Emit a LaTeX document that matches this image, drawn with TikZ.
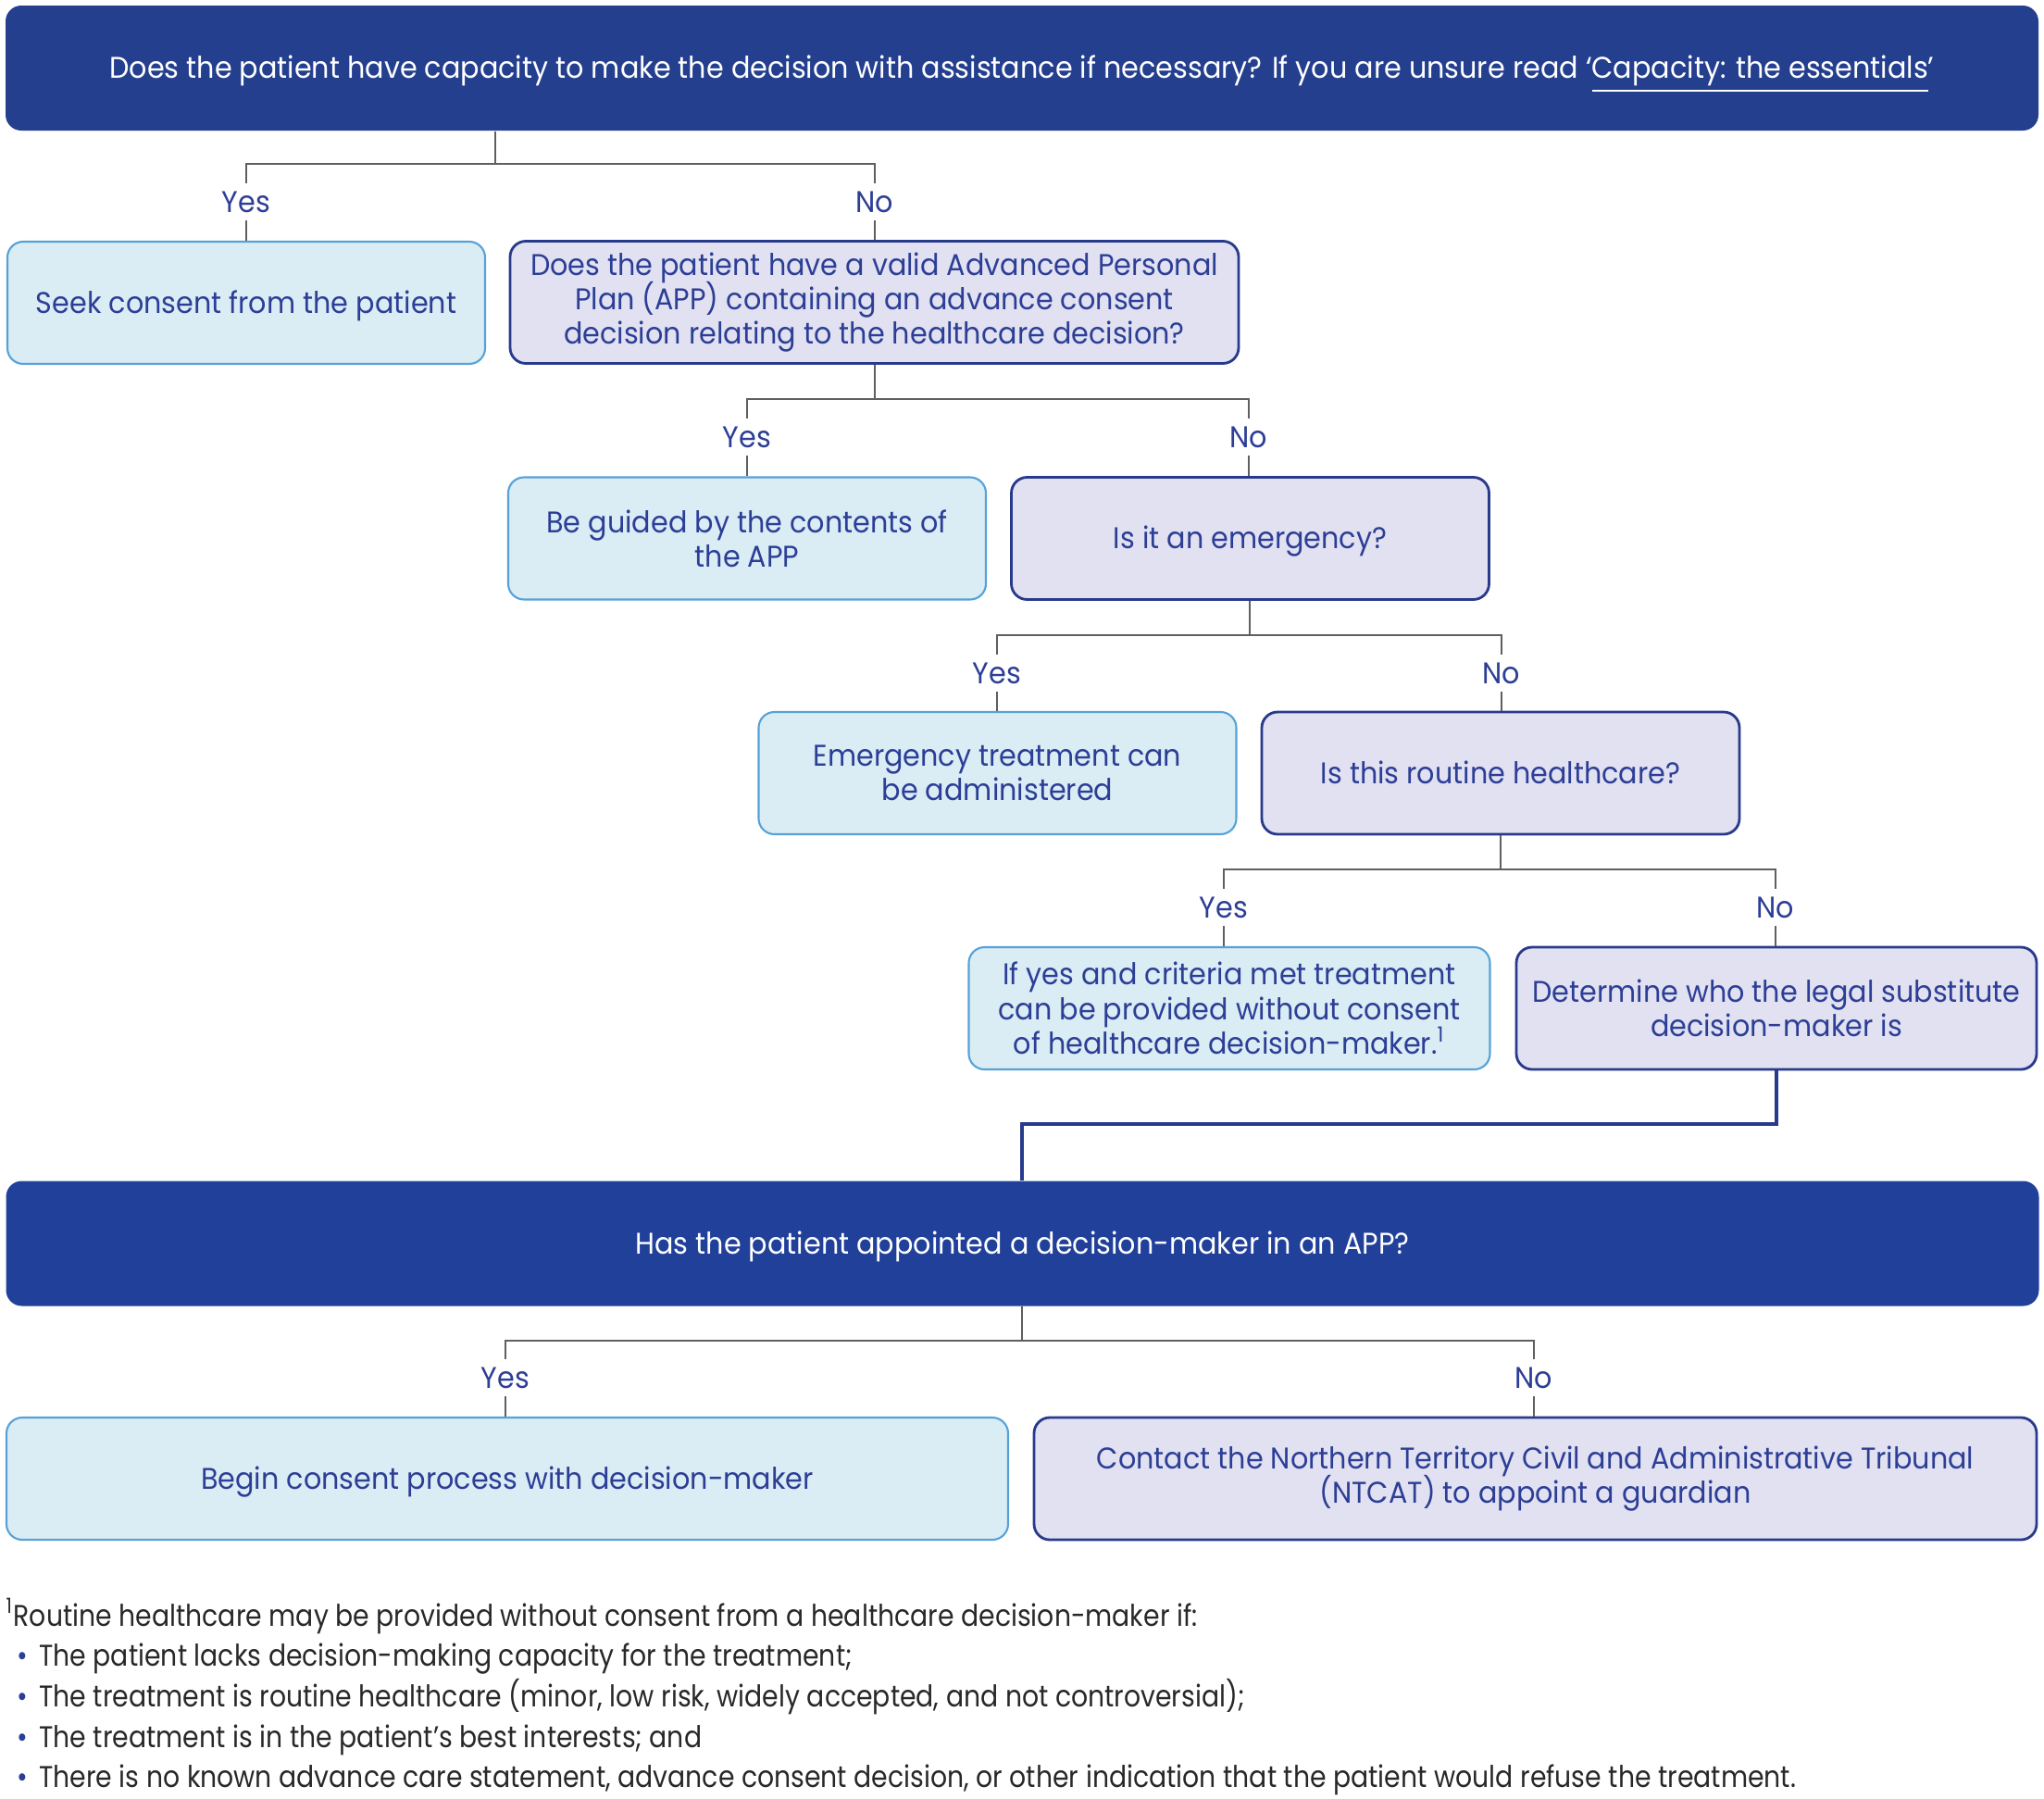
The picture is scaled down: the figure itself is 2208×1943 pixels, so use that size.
\documentclass[tikz,border=0pt]{standalone}
\usepackage{fontspec}
\setmainfont{Poppins}[FakeStretch=0.935]
\newfontfamily\footfont{Poppins}[FakeStretch=0.875]
\definecolor{navy}{RGB}{37,63,143}
\definecolor{navytwo}{RGB}{33,64,154}
\definecolor{inktext}{RGB}{44,62,150}
\definecolor{skyfill}{RGB}{218,236,244}
\definecolor{skyline}{RGB}{86,162,216}
\definecolor{lavfill}{RGB}{225,225,241}
\definecolor{lavline}{RGB}{40,58,140}
\definecolor{wire}{RGB}{95,95,95}
\definecolor{foottext}{RGB}{40,40,40}
\newcommand{\bul}{{\color{inktext}\textbullet}\hspace{1.2mm}}
\newcommand{\boxfont}{\fontsize{9.2}{10.6}\selectfont\lineskiplimit -20pt\relax}
\begin{document}
\begin{tikzpicture}[x=0.1mm,y=-0.1mm,
  font=\boxfont,
  one/.style={text height=2.6mm, text depth=0.34mm},
  box/.style={rounded corners=1.7mm, minimum height=13.2mm, inner sep=0pt,
    align=center, text=inktext, line width=0.6pt},
  ans/.style={box, fill=skyfill, draw=skyline},
  ask/.style={box, fill=lavfill, draw=lavline, line width=0.8pt},
  head/.style={one, rounded corners=1.7mm, minimum height=13.5mm,
    minimum width=219.6mm, text=white, inner sep=0pt},
  lbl/.style={one, text=inktext, fill=white, inner sep=0.5mm},
  link/.style={draw=wire, line width=0.35pt},
  mainlink/.style={draw=lavline, line width=1pt},
  foot/.style={one, text=foottext, anchor=west, inner sep=0pt,
    font=\footfont\boxfont}]
\useasboundingbox (0,0) rectangle (2208,1943);

% questions and answers
\node[head, fill=navy] (capq) at (1104,73.5) {Does the patient have capacity to make the decision with assistance if necessary? If you are unsure read ‘\underline{Capacity: the essentials}’};
\node[ans, one, minimum width=51.6mm] (seek) at (266,327) {Seek consent from the patient};
\node[ask, minimum width=78.7mm] (app) at (944.5,326.5) {Does the patient have a valid Advanced Personal\\Plan (APP) containing an advance consent\\decision relating to the healthcare decision?};
\node[ans, minimum width=51.6mm] (guided) at (807,581.5) {Be guided by the contents of\\the APP};
\node[ask, one, minimum width=51.6mm] (emerg) at (1350.5,581.5) {Is it an emergency?};
\node[ans, minimum width=51.6mm] (etreat) at (1077.5,835) {Emergency treatment can\\be administered};
\node[ask, one, minimum width=51.6mm] (routine) at (1621,835) {Is this routine healthcare?};
\node[ans, minimum width=56.3mm] (criteria) at (1328,1089) {If yes and criteria met treatment\\can be provided without consent\\of healthcare decision-maker.\textsuperscript{1}};
\node[ask, minimum width=56.2mm] (subst) at (1919,1089) {Determine who the legal substitute\\decision-maker is};
\node[head, fill=navytwo] (apptd) at (1104.5,1343) {Has the patient appointed a decision-maker in an APP?};
\node[ans, one, minimum width=108.2mm] (begin) at (548,1597) {Begin consent process with decision-maker};
\node[ask, minimum width=108.3mm] (ntcat) at (1658.5,1597) {Contact the Northern Territory Civil and Administrative Tribunal\\(NTCAT) to appoint a guardian};

% yes / no
\node[lbl] (y1) at (266,218) {Yes};
\node[lbl] (n1) at (945,218) {No};
\node[lbl] (y2) at (807,472) {Yes};
\node[lbl] (n2) at (1349,472) {No};
\node[lbl] (y3) at (1077,727) {Yes};
\node[lbl] (n3) at (1622,727) {No};
\node[lbl] (y4) at (1322,980) {Yes};
\node[lbl] (n4) at (1918,980) {No};
\node[lbl] (y5) at (546,1488) {Yes};
\node[lbl] (n5) at (1657,1488) {No};

\coordinate (s1) at (535,177);
\coordinate (s2) at (945,431);
\coordinate (s3) at (1350,686);
\coordinate (s4) at (1621,939);
\coordinate (s5) at (1104,1448);
\coordinate (k) at (1104,1214);

\draw[link] (capq.south -| s1) -- (s1) -| (y1);
\draw[link] (s1) -| (n1);
\draw[link] (y1) -- (y1 |- seek.north);
\draw[link] (n1) -- (n1 |- app.north);
\draw[link] (app.south -| s2) -- (s2) -| (y2);
\draw[link] (s2) -| (n2);
\draw[link] (y2) -- (y2 |- guided.north);
\draw[link] (n2) -- (n2 |- emerg.north);
\draw[link] (emerg.south -| s3) -- (s3) -| (y3);
\draw[link] (s3) -| (n3);
\draw[link] (y3) -- (y3 |- etreat.north);
\draw[link] (n3) -- (n3 |- routine.north);
\draw[link] (routine.south -| s4) -- (s4) -| (y4);
\draw[link] (s4) -| (n4);
\draw[link] (y4) -- (y4 |- criteria.north);
\draw[link] (n4) -- (n4 |- subst.north);
\draw[mainlink] (subst.south) |- (k) -- (k |- apptd.north);
\draw[link] (apptd.south -| s5) -- (s5) -| (y5);
\draw[link] (s5) -| (n5);
\draw[link] (y5) -- (y5 |- begin.north);
\draw[link] (n5) -- (n5 |- ntcat.north);

% footnote
\node[foot] (fn0) at (6,1745) {\textsuperscript{1}Routine healthcare may be provided without consent from a healthcare decision-maker if:};
\node[foot] (fn1) at (18,1788) {\bul The patient lacks decision-making capacity for the treatment;};
\node[foot] (fn2) at (18,1832) {\bul The treatment is routine healthcare (minor, low risk, widely accepted, and not controversial);};
\node[foot] (fn3) at (18,1876) {\bul The treatment is in the patient’s best interests; and};
\node[foot] (fn4) at (18,1919) {\bul There is no known advance care statement, advance consent decision, or other indication that the patient would refuse the treatment.};
\end{tikzpicture}
\end{document}
